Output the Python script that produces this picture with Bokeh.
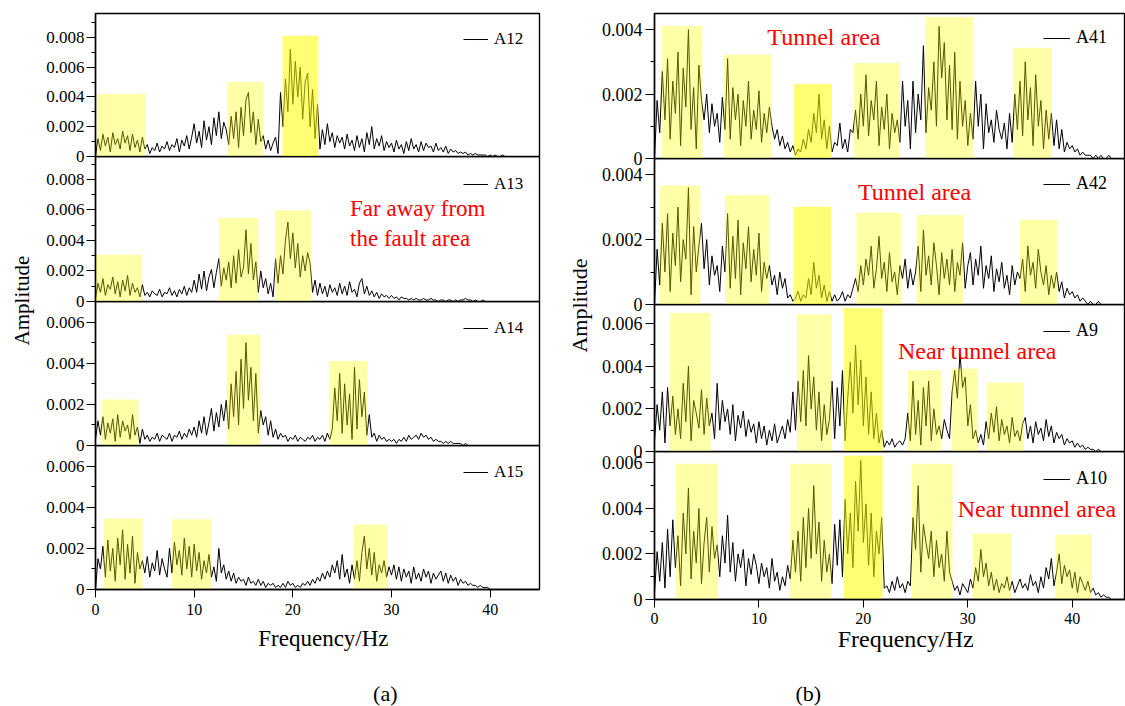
import numpy as np
from math import pi
from bokeh.plotting import figure
from bokeh.layouts import row, column
from bokeh.models import (Range1d, FixedTicker, Label, Legend, LegendItem,
                          PrintfTickFormatter)
from bokeh.core.properties import value
from bokeh.embed import file_html
from bokeh.resources import INLINE

FONT = "'Liberation Serif', 'Times New Roman', Times, 'DejaVu Serif', serif"

# frequency samples (Hz), 0.25 Hz spacing
freq = np.arange(180) * 0.25
AMP_UNIT = 1e-4   # amplitudes below are in units of 1e-4

# ---------------- spectra (x1e-4) ----------------
a12 = [0, 12, 4, 15, 7, 13, 3, 16, 8, 12, 5, 17, 9, 14, 4, 15, 6, 11, 3, 13,
       5, 8, 2, 6, 4, 9, 3, 7, 5, 10, 4, 8, 6, 12, 3, 11, 7, 14, 5, 13,
       22, 9, 17, 6, 24, 11, 20, 8, 26, 14, 30, 12, 23, 18, 8, 27, 12, 30, 6, 33,
       14, 38, 43, 16, 30, 8, 25, 10, 14, 5, 11, 4, 9, 13, 2, 43, 20, 52, 30, 72,
       35, 64, 40, 60, 25, 50, 56, 20, 45, 12, 35, 5, 18, 8, 22, 10, 16, 6, 14, 9,
       13, 5, 15, 7, 11, 4, 14, 6, 12, 3, 16, 8, 20, 5, 12, 7, 14, 4, 10, 6,
       9, 3, 11, 5, 8, 2, 10, 4, 12, 5, 8, 3, 10, 4, 9, 6, 7, 3, 9, 4,
       6, 3, 7, 2, 5, 3, 4, 2, 3, 2, 3, 1, 2, 1, 2, 1, 1, 1, 1, 0,
       1, 0, 1, 0, 0, 1, 0, 0, 0, 0, 0, 0, 0, 0, 0, 0, 0, 0, 0, 0]

a13 = [2, 12, 6, 15, 4, 11, 8, 16, 5, 13, 3, 14, 7, 17, 4, 12, 6, 9, 3, 11,
       4, 6, 3, 7, 5, 4, 8, 3, 6, 5, 9, 4, 7, 3, 8, 5, 10, 4, 9, 6,
       14, 6, 18, 8, 20, 7, 16, 21, 9, 19, 28, 10, 22, 14, 26, 9, 30, 12, 34, 16,
       22, 47, 18, 38, 14, 26, 6, 20, 9, 15, 5, 12, 3, 28, 12, 30, 18, 40, 52, 28,
       45, 22, 38, 16, 30, 20, 32, 25, 6, 14, 4, 12, 5, 10, 3, 11, 6, 9, 4, 12,
       5, 10, 4, 13, 6, 8, 3, 12, 15, 5, 10, 4, 7, 3, 6, 2, 5, 3, 4, 2,
       4, 2, 3, 1, 3, 2, 2, 1, 2, 1, 2, 1, 1, 2, 1, 1, 2, 1, 1, 0,
       1, 1, 0, 1, 1, 0, 1, 0, 1, 1, 2, 1, 1, 0, 1, 0, 0, 1, 0, 0,
       0, 0, 0, 0, 0, 0, 0, 0, 0, 0, 0, 0, 0, 0, 0, 0, 0, 0, 0, 0]

a14 = [3, 12, 5, 14, 3, 11, 6, 13, 2, 15, 4, 12, 7, 10, 3, 15, 5, 9, 1, 8,
       3, 5, 2, 4, 3, 6, 2, 5, 4, 3, 6, 2, 5, 4, 7, 3, 6, 4, 8, 5,
       9, 4, 12, 6, 14, 5, 11, 18, 7, 16, 9, 20, 12, 22, 8, 30, 14, 36, 10, 42,
       18, 50, 22, 38, 12, 35, 6, 17, 10, 14, 5, 12, 4, 8, 3, 6, 4, 5, 2, 4,
       3, 5, 2, 4, 3, 2, 4, 3, 5, 2, 4, 3, 5, 2, 6, 3, 8, 28, 12, 35,
       6, 30, 10, 25, 3, 38, 8, 32, 14, 26, 5, 15, 4, 6, 2, 5, 3, 4, 2, 3,
       2, 3, 1, 3, 2, 4, 2, 5, 3, 4, 5, 3, 6, 4, 5, 3, 4, 2, 3, 2,
       2, 1, 2, 1, 2, 1, 1, 1, 1, 0, 1, 0, 0, 0, 0, 0, 0, 0, 0, 0,
       0, 0, 0, 0, 0, 0, 0, 0, 0, 0, 0, 0, 0, 0, 0, 0, 0, 0, 0, 0]

a15 = [0, 15, 10, 21, 6, 24, 9, 20, 4, 25, 12, 29, 5, 22, 8, 26, 3, 18, 10, 14,
       8, 16, 6, 13, 9, 19, 7, 15, 10, 6, 20, 8, 23, 12, 19, 7, 25, 10, 21, 6,
       22, 9, 18, 5, 14, 8, 17, 6, 11, 4, 20, 8, 12, 5, 9, 4, 8, 3, 6, 4,
       5, 2, 6, 3, 4, 2, 5, 2, 4, 1, 3, 2, 3, 1, 2, 1, 3, 1, 4, 2,
       3, 1, 2, 1, 3, 2, 4, 2, 5, 3, 6, 4, 8, 5, 9, 6, 12, 8, 14, 5,
       17, 6, 10, 3, 12, 5, 14, 4, 18, 26, 10, 20, 7, 18, 4, 12, 8, 14, 6, 11,
       7, 12, 5, 11, 4, 10, 6, 9, 3, 11, 5, 8, 4, 10, 6, 9, 3, 8, 5, 7,
       9, 4, 8, 3, 7, 4, 6, 2, 5, 3, 4, 2, 3, 2, 2, 1, 2, 1, 1, 1,
       0, 0, 0, 0, 0, 0, 0, 0, 0, 0, 0, 0, 0, 0, 0, 0, 0, 0, 0, 0]

a41 = [0, 18, 8, 27, 12, 31, 6, 24, 14, 33, 4, 28, 16, 40, 9, 22, 3, 29, 18, 12,
       20, 8, 17, 10, 14, 5, 19, 9, 31, 6, 22, 12, 20, 4, 18, 10, 24, 6, 15, 9,
       21, 5, 14, 8, 16, 10, 6, 9, 4, 7, 3, 5, 2, 4, 1, 3, 2, 6, 3, 9,
       5, 14, 8, 20, 6, 12, 3, 10, 2, 5, 4, 11, 3, 6, 2, 9, 8, 15, 6, 20,
       10, 26, 7, 18, 12, 24, 4, 16, 9, 20, 3, 14, 8, 12, 5, 24, 10, 18, 3, 24,
       8, 20, 12, 35, 8, 22, 15, 30, 10, 41, 25, 36, 12, 29, 9, 33, 6, 24, 10, 18,
       4, 14, 6, 24, 10, 20, 3, 17, 8, 12, 5, 15, 9, 6, 11, 3, 14, 5, 20, 9,
       24, 7, 30, 12, 22, 4, 26, 10, 18, 3, 15, 6, 14, 4, 12, 3, 9, 2, 5, 3,
       4, 2, 3, 1, 2, 1, 1, 1, 0, 1, 0, 1, 0, 0, 1, 0, 0, 0, 0, 0]

a42 = [0, 17, 6, 25, 10, 28, 4, 22, 12, 30, 7, 20, 14, 36, 3, 24, 10, 18, 25, 11,
       20, 6, 15, 9, 12, 4, 18, 10, 28, 5, 21, 8, 26, 3, 19, 11, 24, 7, 17, 9,
       22, 4, 13, 8, 12, 6, 9, 3, 10, 5, 8, 2, 3, 1, 2, 4, 1, 3, 2, 8,
       3, 13, 5, 9, 2, 6, 1, 4, 1, 3, 1, 2, 4, 1, 3, 2, 5, 8, 4, 12,
       6, 14, 9, 18, 5, 11, 21, 8, 13, 4, 16, 7, 10, 3, 12, 8, 14, 5, 11, 6,
       10, 18, 4, 23, 9, 15, 6, 19, 12, 3, 16, 8, 14, 6, 17, 4, 13, 9, 19, 5,
       12, 16, 6, 14, 9, 18, 5, 12, 8, 15, 4, 11, 7, 13, 5, 9, 3, 12, 6, 10,
       8, 14, 4, 18, 9, 13, 5, 17, 10, 6, 12, 3, 9, 5, 10, 4, 7, 2, 5, 3,
       4, 2, 3, 1, 2, 1, 0, 1, 0, 0, 1, 0, 0, 0, 0, 0, 0, 0, 0, 0]

a9 = [5, 22, 10, 28, 4, 30, 12, 26, 8, 20, 6, 32, 14, 40, 5, 24, 18, 11, 29, 8,
      25, 12, 18, 6, 32, 10, 24, 14, 20, 8, 22, 5, 17, 11, 19, 7, 15, 9, 13, 4,
      14, 6, 12, 3, 10, 5, 13, 4, 8, 12, 6, 15, 9, 28, 10, 33, 14, 38, 12, 45,
      20, 35, 10, 28, 5, 22, 8, 15, 33, 6, 30, 12, 38, 5, 25, 42, 18, 50, 22, 43,
      12, 35, 8, 28, 6, 18, 4, 10, 2, 5, 3, 6, 2, 4, 5, 3, 6, 18, 5, 33,
      8, 24, 3, 30, 12, 33, 5, 20, 8, 12, 6, 15, 10, 6, 28, 38, 25, 46, 30, 35,
      12, 22, 6, 10, 4, 8, 3, 14, 6, 18, 9, 21, 5, 15, 8, 12, 4, 16, 7, 10,
      5, 13, 16, 6, 12, 4, 14, 8, 11, 5, 15, 7, 12, 4, 9, 6, 8, 3, 6, 4,
      5, 2, 4, 2, 3, 1, 2, 1, 1, 0, 1, 0, 0, 0, 0, 0, 0, 0, 0, 0]

a10 = [3, 21, 8, 25, 5, 31, 10, 35, 14, 28, 6, 38, 20, 49, 9, 30, 16, 40, 7, 25,
       36, 12, 32, 18, 24, 10, 28, 16, 37, 12, 25, 8, 20, 14, 22, 6, 18, 11, 20, 15,
       7, 16, 10, 14, 5, 18, 8, 12, 4, 10, 6, 15, 9, 26, 12, 30, 8, 36, 14, 40,
       18, 50, 20, 34, 8, 26, 12, 20, 7, 33, 15, 35, 10, 44, 20, 38, 14, 52, 30, 61,
       25, 42, 15, 38, 10, 30, 20, 36, 5, 6, 3, 8, 4, 10, 5, 7, 3, 8, 6, 36,
       22, 50, 12, 33, 25, 18, 30, 10, 26, 14, 20, 8, 30, 12, 8, 4, 6, 2, 7, 5,
       3, 9, 5, 14, 8, 22, 10, 16, 6, 12, 4, 9, 3, 7, 5, 10, 4, 8, 3, 6,
       9, 5, 7, 4, 11, 6, 8, 3, 10, 5, 14, 9, 18, 6, 12, 20, 7, 15, 10, 13,
       5, 12, 3, 10, 7, 4, 8, 3, 5, 2, 3, 1, 2, 1, 1, 0, 0, 0, 0, 0]

# ---------------- highlighted frequency bands: (from Hz, to Hz, top) ----------------
box_a12 = [(0.18, 5.05, 0.0042), (13.37, 16.98, 0.0050), (18.96, 22.58, 0.0081)]
box_a13 = [(0.0, 4.7, 0.00306), (12.5, 16.5, 0.00547), (18.2, 21.9, 0.00598)]
box_a14 = [(0.62, 4.34, 0.00224), (13.3, 16.7, 0.00538), (23.7, 27.6, 0.00411)]
box_a15 = [(0.84, 4.77, 0.00345), (7.77, 11.74, 0.00342), (26.2, 29.55, 0.00316)]
box_a41 = [(0.71, 4.57, 0.00411), (6.67, 11.22, 0.00323), (13.37, 16.99, 0.00231),
           (19.09, 23.5, 0.00296), (25.95, 30.54, 0.00439), (34.43, 38.06, 0.00344)]
box_a42 = [(0.54, 4.4, 0.00367), (6.75, 10.95, 0.00337), (13.3, 16.9, 0.00301),
           (19.33, 23.6, 0.00283), (25.09, 29.57, 0.00276), (34.99, 38.57, 0.00261)]
box_a9 = [(1.46, 5.36, 0.0065), (13.64, 16.99, 0.00644), (18.15, 21.85, 0.00673),
          (24.26, 27.43, 0.00381), (28.47, 30.99, 0.0039), (31.82, 35.37, 0.00323)]
box_a10 = [(2.02, 6.09, 0.00596), (12.99, 16.95, 0.00596), (18.15, 21.85, 0.00631),
           (24.64, 28.54, 0.00596), (30.47, 34.16, 0.00291), (38.4, 41.9, 0.00284)]

# ---------------- ticks ----------------
x_ticks = [0, 10, 20, 30, 40]
x_tick_labels = ["0", "10", "20", "30", "40"]
y_ticks_8 = [0, 0.002, 0.004, 0.006, 0.008]
y_labels_8 = ["0", "0.002", "0.004", "0.006", "0.008"]
y_minor_8 = [0.001, 0.003, 0.005, 0.007, 0.009]
y_ticks_6 = [0, 0.002, 0.004, 0.006]
y_labels_6 = ["0", "0.002", "0.004", "0.006"]
y_minor_6 = [0.001, 0.003, 0.005]
y_ticks_4 = [0, 0.002, 0.004]
y_labels_4 = ["0", "0.002", "0.004"]
y_minor_4 = [0.001, 0.003]

LIGHT_ALPHA = 0.34
BRIGHT_ALPHA = 0.55
OVERLAP = 10   # extra transparent canvas so texts near a panel edge are not cut


def make_panel(name, vals, ymax, ticks, labels, minor, boxes, bright, side,
               frame_h, top_b, bottom_axis, bottom_b, notes, first):
    if side == "L":
        mbl, fw, mbr, xend, ysize, ystand = 59, 444, 21, 45.0, "17px", 2
        leg_loc, leg_size, gw = (368, 107), "17px", 25
    else:
        mbl, fw, mbr, xend, ysize, ystand = 56, 471, 0, 45.1, "18px", 3
        leg_loc, leg_size, gw = (389, 110), "18px", 27
    extra = 0 if bottom_axis else OVERLAP
    p = figure(width=mbl + fw + mbr, height=top_b + frame_h + bottom_b + extra,
               x_range=Range1d(0, xend), y_range=Range1d(0, ymax),
               x_axis_location="below" if bottom_axis else None,
               toolbar_location=None, output_backend="svg",
               min_border_left=mbl, min_border_right=mbr,
               min_border_top=top_b, min_border_bottom=bottom_b + extra)
    if not first:
        p.margin = (-OVERLAP, 0, 0, 0)
    p.border_fill_color = None
    p.background_fill_color = None
    p.outline_line_color = "black"
    p.outline_line_width = 1.4
    p.outline_line_alpha = 1
    p.grid.grid_line_color = None

    amp = np.array(vals) * AMP_UNIT
    r = p.line(freq, amp, line_color="black", line_width=1)

    light = [b for i, b in enumerate(boxes) if i not in bright]
    strong = [b for i, b in enumerate(boxes) if i in bright]
    for group, alpha in ((light, LIGHT_ALPHA), (strong, BRIGHT_ALPHA)):
        if group:
            p.quad(left=[b[0] for b in group], right=[b[1] for b in group],
                   bottom=[0] * len(group), top=[b[2] for b in group],
                   fill_color="#FFFF00", fill_alpha=alpha, line_color=None)

    ya = p.yaxis[0]
    ya.ticker = FixedTicker(ticks=ticks, minor_ticks=minor)
    ya.formatter = PrintfTickFormatter(format="%g")
    ya.major_label_overrides = dict(zip(ticks, labels))
    ya.axis_line_color = "black"
    ya.axis_line_width = 1.4
    ya.major_tick_line_color = "black"
    ya.minor_tick_line_color = "black"
    ya.major_tick_out = 9
    ya.major_tick_in = 0
    ya.minor_tick_out = 4
    ya.minor_tick_in = 0
    ya.major_label_standoff = ystand
    ya.major_label_text_font = FONT
    ya.major_label_text_font_size = ysize
    ya.major_label_text_color = "black"

    if bottom_axis:
        xa = p.xaxis[0]
        xa.ticker = FixedTicker(ticks=x_ticks, minor_ticks=[])
        xa.major_label_overrides = dict(zip(x_ticks, x_tick_labels))
        xa.axis_line_color = "black"
        xa.axis_line_width = 1.4
        xa.major_tick_line_color = "black"
        xa.minor_tick_line_color = None
        xa.major_tick_out = 8
        xa.major_tick_in = 0
        xa.major_label_standoff = 6 if side == "L" else 5
        xa.major_label_text_font = FONT
        xa.major_label_text_font_size = "16px"
        xa.major_label_text_color = "black"

    leg = Legend(items=[LegendItem(label=value(name), renderers=[r])],
                 location=leg_loc, padding=0, margin=0, spacing=0,
                 label_standoff=6, glyph_width=gw, glyph_height=20, label_height=20,
                 border_line_color=None, background_fill_alpha=0,
                 label_text_font=FONT, label_text_font_size=leg_size,
                 label_text_color="black")
    p.add_layout(leg)

    for (tx, ty, txt, align, size) in notes:
        p.add_layout(Label(x=tx, y=ty, text=txt, text_color="#FF0000",
                           text_font=FONT, text_font_size=size,
                           text_align=align, text_baseline="middle"))
    return p


def blank(w, h, overlap=0):
    p = figure(width=w, height=h, x_range=Range1d(0, w), y_range=Range1d(0, h),
               toolbar_location=None, output_backend="svg",
               x_axis_location=None, y_axis_location=None,
               min_border=0, outline_line_color=None)
    p.grid.visible = False
    p.border_fill_color = None
    p.background_fill_color = None
    if overlap:
        p.margin = (-overlap, 0, 0, 0)
    return p


def text(p, x, y, t, size, angle=0.0, color="black"):
    p.add_layout(Label(x=x, y=y, text=t, angle=angle, text_color=color,
                       text_font=FONT, text_font_size=size,
                       text_align="center", text_baseline="middle"))


# ---------------- left column ----------------
L1 = make_panel("A12", a12, 0.0096, y_ticks_8, y_labels_8, y_minor_8, box_a12, [2],
                "L", 143, 13, False, 0, [], True)
L2 = make_panel("A13", a13, 0.0095, y_ticks_8, y_labels_8, y_minor_8, box_a13, [],
                "L", 145, 0, False, 0,
                [(25.8, 0.00607, "Far away from", "left", "23px"),
                 (25.8, 0.00411, "the fault area", "left", "23px")], False)
L3 = make_panel("A14", a14, 0.007, y_ticks_6, y_labels_6, y_minor_6, box_a14, [],
                "L", 144, 0, False, 0, [], False)
L4 = make_panel("A15", a15, 0.007, y_ticks_6, y_labels_6, y_minor_6, box_a15, [],
                "L", 144, 0, True, 36, [], False)
capL = blank(524, 81 + OVERLAP, OVERLAP)
text(capL, 269, 68, "Frequency/Hz", "23px")
text(capL, 342, 13, "(a)", "22px")

ampL = blank(36, 706)
text(ampL, 21, 406, "Amplitude", "21px", angle=pi / 2)

# ---------------- right column ----------------
R1 = make_panel("A41", a41, 0.0045, y_ticks_4, y_labels_4, y_minor_4, box_a41, [2],
                "R", 145, 13, False, 0,
                [(16.22, 0.003764, "Tunnel area", "center", "24px")], True)
R2 = make_panel("A42", a42, 0.0045, y_ticks_4, y_labels_4, y_minor_4, box_a42, [2],
                "R", 146, 0, False, 0,
                [(24.9, 0.00346, "Tunnel area", "center", "24px")], False)
R3 = make_panel("A9", a9, 0.0069, y_ticks_6, y_labels_6, y_minor_6, box_a9, [2],
                "R", 147, 0, False, 0,
                [(30.9, 0.00474, "Near tunnel area", "center", "24px")], False)
R4 = make_panel("A10", a10, 0.0065, y_ticks_6, y_labels_6, y_minor_6, box_a10, [2],
                "R", 148, 0, True, 32,
                [(36.62, 0.00398, "Near tunnel area", "center", "24px")], False)
capR = blank(527, 75 + OVERLAP, OVERLAP)
text(capR, 281, 68, "Frequency/Hz", "24px")
text(capR, 172, 13, "(b)", "22px")

ampR = blank(38, 706)
text(ampR, 19, 401, "Amplitude", "22px", angle=pi / 2)

layout = row(ampL,
             column(L1, L2, L3, L4, capL, spacing=0),
             ampR,
             column(R1, R2, R3, R4, capR, spacing=0),
             spacing=0)

open("out.html", "w").write(file_html(layout, INLINE, title="Spectra"))
